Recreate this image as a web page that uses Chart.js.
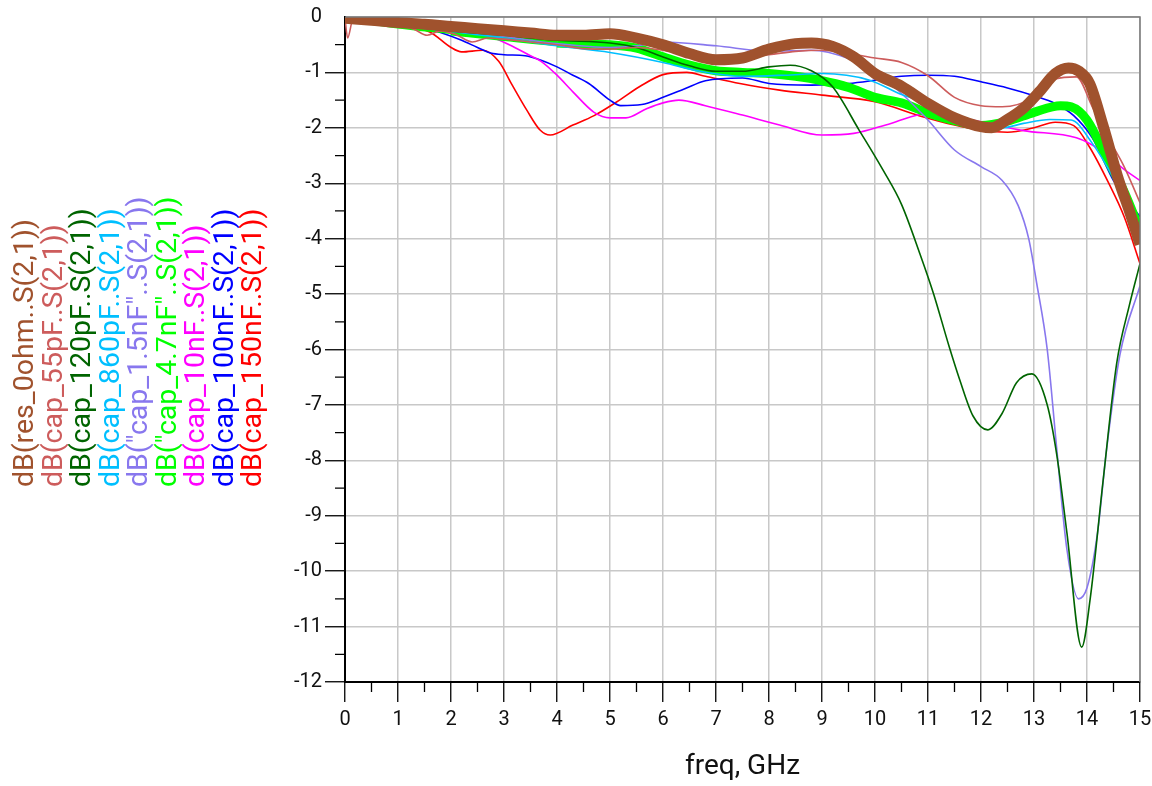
<!DOCTYPE html>
<html>
<head>
<meta charset="utf-8">
<script src="https://cdn.jsdelivr.net/npm/chart.js@4.4.1/dist/chart.umd.min.js"></script>
<style>
  html, body { margin: 0; padding: 0; background: #fff; }
  #wrap { width: 1152px; height: 786px; position: relative; }
</style>
</head>
<body>
<div id="wrap"><canvas id="sparams"></canvas></div>
<script>
// series names, in legend order (first one is drawn on top)
const seriesNames = [
  'dB(res_0ohm..S(2,1))',
  'dB(cap_55pF..S(2,1))',
  'dB(cap_120pF..S(2,1))',
  'dB(cap_860pF..S(2,1))',
  'dB("cap_1.5nF"..S(2,1))',
  'dB("cap_4.7nF"..S(2,1))',
  'dB(cap_10nF..S(2,1))',
  'dB(cap_100nF..S(2,1))',
  'dB(cap_150nF..S(2,1))'
];
const seriesColors = ['#A0522D', '#CD5C5C', '#006400', '#00BFFF', '#8877EE', '#00FF00', '#FF00FF', '#0000FF', '#FF0000'];

// freq (GHz) / dB values
const f_res0 = [0, 0.5, 1, 1.5, 2, 2.5, 3, 3.5, 4, 4.5, 5, 5.5, 6, 6.5, 7, 7.5, 8, 8.5, 8.8, 9.2, 9.6, 10, 10.5, 11, 11.5, 12, 12.2, 12.5, 12.8, 13.1, 13.4, 13.65, 13.85, 14.05, 14.3, 14.6, 14.8, 15];
const db_res0 = [-0.02, -0.06, -0.1, -0.13, -0.17, -0.21, -0.25, -0.29, -0.33, -0.33, -0.3, -0.38, -0.5, -0.66, -0.77, -0.74, -0.58, -0.48, -0.47, -0.53, -0.72, -1.02, -1.25, -1.56, -1.82, -1.98, -2.0, -1.85, -1.65, -1.35, -1.02, -0.92, -0.98, -1.2, -1.95, -2.95, -3.5, -4.1];

const f_55p = [0, 0.05, 0.15, 0.5, 1, 1.3, 1.55, 1.8, 2.1, 2.4, 2.7, 3, 3.5, 4, 4.5, 5, 5.5, 6, 6.5, 7, 7.5, 8, 8.5, 9, 9.5, 10, 10.5, 11, 11.5, 12, 12.4, 13, 13.4, 13.8, 14.1, 14.4, 14.7, 15];
const db_55p = [-0.02, -0.38, -0.05, -0.08, -0.15, -0.22, -0.33, -0.25, -0.32, -0.45, -0.38, -0.4, -0.45, -0.5, -0.57, -0.58, -0.55, -0.6, -0.68, -0.74, -0.72, -0.68, -0.62, -0.6, -0.66, -0.74, -0.82, -1.06, -1.45, -1.6, -1.62, -1.45, -1.12, -1.08, -1.62, -2.18, -2.7, -3.35];

const f_120p = [0, 1, 2, 3, 4, 5, 5.5, 6, 6.5, 7, 7.5, 8, 8.4, 8.8, 9.2, 9.7, 10.15, 10.5, 10.85, 11.1, 11.4, 11.6, 11.85, 12.13, 12.4, 12.67, 12.96, 13.25, 13.43, 13.62, 13.9, 14.06, 14.3, 14.56, 14.8, 15];
const db_120p = [-0.03, -0.15, -0.25, -0.33, -0.42, -0.47, -0.55, -0.72, -0.88, -0.98, -0.98, -0.9, -0.87, -0.97, -1.26, -2.04, -2.76, -3.38, -4.28, -4.98, -5.95, -6.55, -7.2, -7.45, -7.15, -6.6, -6.44, -7.0, -7.9, -9.3, -11.37, -10.5, -8.4, -6.25, -5.2, -4.45];

const f_860p = [0, 1, 2, 3, 4, 5, 6, 6.7, 7.5, 8.3, 9, 9.9, 10.5, 11, 11.5, 12, 12.4, 12.8, 13.3, 13.7, 14.1, 14.5, 14.85, 15];
const db_860p = [-0.03, -0.15, -0.26, -0.38, -0.52, -0.64, -0.82, -0.98, -1.07, -1.05, -1.02, -1.14, -1.4, -1.55, -1.75, -1.95, -2.0, -1.92, -1.85, -1.86, -2.28, -2.9, -3.55, -3.85];

const f_1n5 = [0, 1, 2, 3, 4, 5, 5.5, 6, 7, 8, 8.8, 9.5, 10, 10.5, 11, 11.5, 12, 12.4, 12.7, 12.9, 13.05, 13.25, 13.43, 13.62, 13.84, 14, 14.2, 14.37, 14.62, 15];
const db_1n5 = [-0.03, -0.12, -0.22, -0.35, -0.48, -0.55, -0.52, -0.45, -0.52, -0.62, -0.6, -0.75, -1.0, -1.38, -1.86, -2.4, -2.7, -2.95, -3.4, -4.0, -4.8, -6.0, -7.8, -9.6, -10.5, -10.3, -9.3, -7.8, -6.1, -4.85];

const f_4n7 = [0, 1, 2, 3, 4, 5, 5.5, 6, 6.5, 7, 7.5, 8, 8.5, 9, 9.5, 10, 10.5, 11, 11.5, 12, 12.5, 13, 13.5, 13.7, 14, 14.4, 14.7, 15];
const db_4n7 = [-0.05, -0.18, -0.28, -0.38, -0.47, -0.5, -0.56, -0.72, -0.87, -0.97, -1.0, -1.02, -1.07, -1.15, -1.27, -1.45, -1.55, -1.73, -1.87, -1.96, -1.88, -1.72, -1.6, -1.62, -1.86, -2.6, -3.15, -3.85];

const f_10n = [0, 1, 2, 2.5, 2.75, 3.1, 3.5, 3.7, 4, 4.3, 4.7, 5, 5.3, 5.7, 6, 6.3, 6.8, 7.5, 8.2, 9, 9.6, 10.3, 11, 11.4, 11.8, 12.8, 13.8, 14.25, 14.7, 15];
const db_10n = [-0.03, -0.13, -0.24, -0.3, -0.36, -0.5, -0.7, -0.8, -1.05, -1.35, -1.72, -1.82, -1.82, -1.65, -1.55, -1.5, -1.6, -1.77, -1.95, -2.13, -2.1, -1.92, -1.74, -1.75, -1.85, -2.05, -2.18, -2.4, -2.75, -2.95];

const f_100n = [0, 1, 1.5, 1.8, 2.2, 2.5, 2.75, 3, 3.4, 3.7, 4, 4.3, 4.6, 5, 5.2, 5.6, 6, 6.4, 6.8, 7.5, 8, 8.8, 9.5, 10, 10.5, 11, 11.5, 12, 12.5, 13, 13.4, 13.75, 14.1, 14.5, 14.75, 15];
const db_100n = [-0.03, -0.13, -0.2, -0.28, -0.42, -0.55, -0.65, -0.68, -0.7, -0.78, -0.9, -1.05, -1.2, -1.5, -1.6, -1.58, -1.45, -1.3, -1.15, -1.1, -1.2, -1.23, -1.2, -1.14, -1.07, -1.05, -1.07, -1.17, -1.28, -1.42, -1.56, -1.78, -2.18, -2.95, -3.3, -3.6];

const f_150n = [0, 1, 1.6, 2.0, 2.2, 2.6, 2.9, 3.15, 3.43, 3.68, 3.87, 4.3, 4.7, 5.13, 5.57, 6.0, 6.45, 6.8, 7.45, 8.2, 9, 10, 10.9, 11.5, 12, 12.5, 13, 13.4, 13.75, 14.05, 14.4, 14.7, 15];
const db_150n = [-0.03, -0.14, -0.27, -0.55, -0.63, -0.6, -0.8, -1.22, -1.68, -2.04, -2.13, -1.95, -1.78, -1.53, -1.25, -1.04, -1.0, -1.07, -1.2, -1.32, -1.41, -1.53, -1.8, -1.95, -2.04, -2.08, -2.0, -1.9, -1.96, -2.35, -2.98, -3.6, -4.45];

const freqs = [f_res0, f_55p, f_120p, f_860p, f_1n5, f_4n7, f_10n, f_100n, f_150n];
const dbs = [db_res0, db_55p, db_120p, db_860p, db_1n5, db_4n7, db_10n, db_100n, db_150n];

const xTicks = [0, 15];
const yTicks = [-12, 0];

const pairUp = (fx, dy) => fx.map((v, i) => ({ x: v, y: dy[i] }));

const datasets = seriesNames.map((name, i) => ({
  label: name,
  data: pairUp(freqs[i], dbs[i]),
  borderColor: seriesColors[i],
  borderWidth: 1.6,
  pointRadius: 0,
  cubicInterpolationMode: 'monotone',
  clip: 0
}));
datasets[0].borderWidth = 11;
// the 4.7nF trace gets thicker going right
datasets[5].borderWidth = 9;
datasets[5].segment = {
  borderWidth: c => c.p0.parsed.x < 2 ? 3 : (c.p0.parsed.x < 4 ? 6 : 9)
};

// rotated colored legend, minor ticks and the plot frame
const adsExtras = {
  id: 'adsExtras',
  afterDraw(chart) {
    const { ctx, chartArea: a, scales: { x, y } } = chart;
    ctx.save();
    ctx.strokeStyle = '#7a7a7a';
    ctx.lineWidth = 1.5;
    ctx.beginPath();
    ctx.moveTo(a.left, a.top);
    ctx.lineTo(a.right, a.top);
    ctx.lineTo(a.right, a.bottom);
    ctx.stroke();

    ctx.strokeStyle = '#000';
    ctx.lineWidth = 1.3;
    ctx.beginPath();
    for (let v = 0.5; v < 15; v += 1) {
      const px = x.getPixelForValue(v);
      ctx.moveTo(px, a.bottom);
      ctx.lineTo(px, a.bottom + 10);
    }
    for (let v = -0.5; v > -12; v -= 1) {
      const py = y.getPixelForValue(v);
      ctx.moveTo(a.left, py);
      ctx.lineTo(a.left - 10, py);
    }
    ctx.stroke();

    ctx.font = '28.5px Roboto, "Liberation Sans", sans-serif';
    ctx.textAlign = 'left';
    ctx.textBaseline = 'alphabetic';
    chart.data.datasets.forEach((ds, i) => {
      ctx.save();
      ctx.translate(33 + 28.5 * i, 487);
      ctx.rotate(-Math.PI / 2);
      ctx.fillStyle = ds.borderColor;
      ctx.fillText(ds.label, 0, 0);
      ctx.restore();
    });
    ctx.restore();
  }
};

const tickFont = { family: 'Roboto, "Liberation Sans", sans-serif', size: 20 };

new Chart(document.getElementById('sparams'), {
  type: 'line',
  data: { datasets: datasets },
  options: {
    responsive: true,
    maintainAspectRatio: false,
    animation: false,
    layout: { padding: { top: 17, right: 12, left: 0, bottom: 0 } },
    plugins: { legend: { display: false }, tooltip: { enabled: false } },
    scales: {
      x: {
        type: 'linear',
        min: xTicks[0],
        max: xTicks[1],
        ticks: { stepSize: 1, color: '#111', font: tickFont, padding: 6, maxRotation: 0 },
        grid: { color: '#c8c8c8', lineWidth: 1.5, tickLength: 20, tickColor: '#000', tickWidth: 1.3 },
        border: { color: '#000', width: 2 },
        title: {
          display: true,
          text: 'freq, GHz',
          color: '#111',
          font: { family: 'Roboto, "Liberation Sans", sans-serif', size: 28 },
          padding: { top: 0, bottom: 2 }
        },
        afterFit: s => { s.height = 104; s.paddingRight = 0; s.paddingLeft = 0; }
      },
      y: {
        min: yTicks[0],
        max: yTicks[1],
        ticks: { stepSize: 1, color: '#111', font: tickFont, padding: 3 },
        grid: {
          color: '#c8c8c8',
          lineWidth: 1.5,
          tickLength: 20,
          tickWidth: 1.3,
          tickColor: c => (c.tick && c.tick.value === 0) ? 'rgba(0,0,0,0)' : '#000'
        },
        border: { color: '#000', width: 2 },
        afterFit: s => { s.width = 345; }
      }
    }
  },
  plugins: [adsExtras]
});
</script>
</body>
</html>
